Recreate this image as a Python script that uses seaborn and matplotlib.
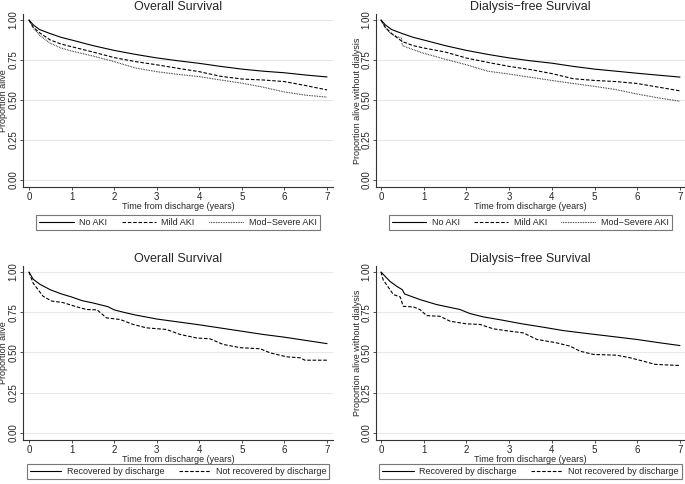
import numpy as np
import pandas as pd
import seaborn as sns
import matplotlib.pyplot as plt
from matplotlib.lines import Line2D

# ---- data (Kaplan-Meier curves) ----
# panel A: overall survival by AKI severity
t_a = [0, 0.1, 0.25, 0.5, 0.75, 1, 1.5, 2, 2.5, 3, 3.5, 4, 4.5, 5, 5.5, 6, 6.5, 7]
a_no_aki = [1, 0.97, 0.94, 0.915, 0.892, 0.875, 0.84, 0.81, 0.785, 0.763, 0.745, 0.729, 0.71, 0.693, 0.68, 0.67, 0.656, 0.644]
a_mild = [1, 0.955, 0.92, 0.875, 0.85, 0.833, 0.8, 0.765, 0.74, 0.72, 0.698, 0.677, 0.648, 0.631, 0.625, 0.615, 0.59, 0.563]
a_mod = [1, 0.95, 0.905, 0.855, 0.825, 0.806, 0.775, 0.74, 0.70, 0.677, 0.66, 0.646, 0.625, 0.605, 0.58, 0.55, 0.53, 0.518]

# panel B: dialysis-free survival by AKI severity
t_b = [0, 0.1, 0.25, 0.5, 0.75, 1, 1.5, 2, 2.5, 3, 3.5, 4, 4.5, 5, 5.5, 6, 6.5, 7]
b_no_aki = [1, 0.97, 0.94, 0.915, 0.892, 0.875, 0.84, 0.81, 0.785, 0.763, 0.745, 0.73, 0.71, 0.693, 0.68, 0.667, 0.655, 0.643]
b_mild = [1, 0.955, 0.915, 0.865, 0.84, 0.825, 0.8, 0.762, 0.735, 0.71, 0.69, 0.665, 0.633, 0.622, 0.615, 0.603, 0.58, 0.557]
t_b_mod = [0, 0.1, 0.25, 0.48, 0.5, 0.75, 1, 1.5, 2, 2.5, 3, 3.5, 4, 4.5, 5, 5.5, 6, 6.5, 7]
b_mod = [1, 0.95, 0.91, 0.885, 0.84, 0.815, 0.792, 0.755, 0.72, 0.68, 0.662, 0.642, 0.622, 0.603, 0.585, 0.565, 0.537, 0.513, 0.492]

# panel C: overall survival by recovery
t_c_rec = [0, 0.1, 0.25, 0.5, 0.75, 1, 1.25, 1.5, 1.85, 2, 2.25, 2.5, 3, 3.5, 4, 4.5, 5, 5.5, 6, 6.5, 7]
c_rec = [1, 0.955, 0.925, 0.89, 0.865, 0.845, 0.822, 0.808, 0.785, 0.765, 0.748, 0.733, 0.708, 0.69, 0.672, 0.652, 0.632, 0.612, 0.595, 0.575, 0.555]
t_c_not = [0, 0.1, 0.33, 0.53, 0.8, 1.08, 1.35, 1.6, 1.82, 2.14, 2.45, 2.76, 3.23, 3.55, 3.94, 4.25, 4.56, 4.96, 5.43, 5.66, 6.05, 6.37, 6.48, 7]
c_not = [1, 0.93, 0.85, 0.82, 0.81, 0.787, 0.767, 0.765, 0.715, 0.705, 0.674, 0.653, 0.643, 0.612, 0.59, 0.585, 0.55, 0.53, 0.523, 0.498, 0.473, 0.467, 0.452, 0.452]

# panel D: dialysis-free survival by recovery
t_d_rec = [0, 0.21, 0.37, 0.5, 0.55, 0.91, 1.3, 1.85, 2.08, 2.4, 2.86, 3.26, 3.8, 4.27, 4.82, 5.36, 5.99, 6.53, 7]
d_rec = [1, 0.942, 0.911, 0.89, 0.864, 0.829, 0.798, 0.767, 0.742, 0.721, 0.70, 0.68, 0.657, 0.636, 0.618, 0.601, 0.581, 0.56, 0.543]
t_d_not = [0, 0.05, 0.13, 0.29, 0.45, 0.52, 0.76, 0.91, 1.07, 1.38, 1.62, 2.0, 2.32, 2.63, 3.02, 3.33, 3.65, 4.11, 4.43, 4.66, 4.97, 5.52, 5.83, 6.14, 6.42, 7]
d_not = [1, 0.952, 0.921, 0.86, 0.845, 0.787, 0.783, 0.767, 0.729, 0.725, 0.694, 0.678, 0.674, 0.647, 0.632, 0.622, 0.581, 0.56, 0.539, 0.508, 0.488, 0.483, 0.467, 0.446, 0.426, 0.419]

aki_labels = ["No AKI", "Mild AKI", "Mod\u2212Severe AKI"]
rec_labels = ["Recovered by discharge", "Not recovered by discharge"]
x_ticks = [0, 1, 2, 3, 4, 5, 6, 7]
y_ticks = [0, 0.25, 0.5, 0.75, 1.0]

sns.set_theme(style="white")
plt.rcParams["font.family"] = ["Liberation Sans", "DejaVu Sans"]

STYLES = {
    "solid": dict(linestyle="-"),
    "dash": dict(linestyle=(0, (3.2, 1.6))),
    "dot": dict(linestyle=(0, (0.6, 0.9))),
}
SMALL = 6.5

W, H = 685, 484
fig = plt.figure(figsize=(W / 100, H / 100), dpi=100)


def make_axes(left, top, right, bottom):
    return fig.add_axes([left / W, 1 - bottom / H, (right - left) / W, (bottom - top) / H])


def style_panel(ax, title, ylabel, ylab_x):
    ax.set_xlim(-0.14, 7.14)
    ax.set_ylim(-0.044, 1.0375)
    ax.set_xticks(x_ticks)
    ax.set_yticks(y_ticks)
    ax.set_yticklabels([f"{v:.2f}" for v in y_ticks], rotation=90, va="center")
    ax.grid(axis="y", color="#e8e8e8", lw=0.8)
    ax.set_axisbelow(True)
    for side in ["top", "right"]:
        ax.spines[side].set_visible(False)
    for side in ["left", "bottom"]:
        ax.spines[side].set_color("#333333")
        ax.spines[side].set_linewidth(0.8)
    ax.tick_params(axis="both", which="both", length=2.5, width=0.6, color="#333333",
                   labelsize=7, pad=1, bottom=True, left=True)
    ax.set_title(title, fontsize=9, pad=3)
    ax.set_xlabel("Time from discharge (years)", fontsize=SMALL, labelpad=0.3)
    ax.set_ylabel(ylabel, fontsize=SMALL)
    ax.yaxis.set_label_coords(ylab_x, 0.5)


def draw(ax, curves, labels, styles, ncol, leg_y, hlen):
    handles = []
    for (t, v), lab, st in zip(curves, labels, styles):
        sns.lineplot(x=t, y=v, ax=ax, color="black", lw=0.8, legend=False, **STYLES[st])
        handles.append(Line2D([], [], color="black", lw=0.8, label=lab, **STYLES[st]))
    leg = ax.legend(handles=handles, loc="upper center", bbox_to_anchor=(0.5, leg_y),
                    ncol=ncol, fontsize=SMALL, frameon=True, fancybox=False,
                    handlelength=hlen, columnspacing=1.6, handletextpad=0.6,
                    borderpad=0.35, borderaxespad=0, edgecolor="#555555")
    leg.get_frame().set_linewidth(0.8)


ax1 = make_axes(23, 14, 333, 187)
draw(ax1, [(t_a, a_no_aki), (t_a, a_mild), (t_a, a_mod)], aki_labels,
     ["solid", "dash", "dot"], 3, -0.162, 3.8)
style_panel(ax1, "Overall Survival", "Proportion alive", -0.047)

ax2 = make_axes(376, 14, 685, 187)
draw(ax2, [(t_b, b_no_aki), (t_b, b_mild), (t_b_mod, b_mod)], aki_labels,
     ["solid", "dash", "dot"], 3, -0.162, 3.8)
style_panel(ax2, "Dialysis\u2212free Survival", "Proportion alive without dialysis", -0.045)
ax2.set_xlim(-0.117, 7.117)

ax3 = make_axes(23, 266, 333, 440)
draw(ax3, [(t_c_rec, c_rec), (t_c_not, c_not)], rec_labels, ["solid", "dash"], 2, -0.138, 3.5)
style_panel(ax3, "Overall Survival", "Proportion alive", -0.047)

ax4 = make_axes(376, 266, 685, 440)
draw(ax4, [(t_d_rec, d_rec), (t_d_not, d_not)], rec_labels, ["solid", "dash"], 2, -0.138, 3.5)
style_panel(ax4, "Dialysis\u2212free Survival", "Proportion alive without dialysis", -0.045)
ax4.set_xlim(-0.117, 7.117)

fig.savefig("out.png", dpi=100)
